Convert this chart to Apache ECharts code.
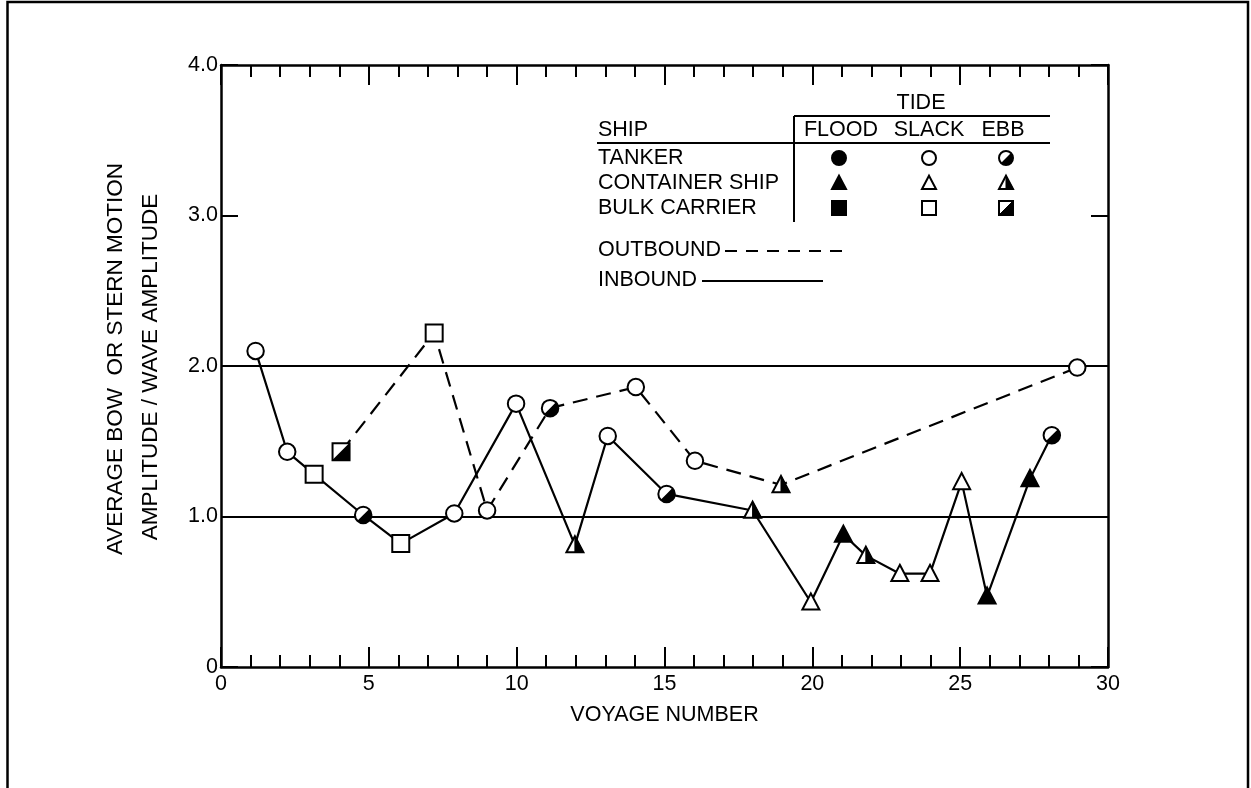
<!DOCTYPE html>
<html>
<head>
<meta charset="utf-8">
<script src="https://cdn.jsdelivr.net/npm/echarts@6/dist/echarts.min.js"></script>
<style>
html,body{margin:0;padding:0;background:#fff;}
#c{width:1251px;height:788px;}
</style>
</head>
<body>
<div id="c"></div>
<script>
// ---- data ----
const xTickLabels = ['0', '5', '10', '15', '20', '25', '30'];
const yTickLabels = ['0', '1.0', '2.0', '3.0', '4.0'];
const refLines = [1, 2];

// Inbound voyages (solid line)
const voyageIn = [1.17, 2.24, 3.15, 4.81, 6.08, 7.89, 9.98, 11.97, 13.08, 15.07, 17.98, 19.95, 21.05, 21.81, 22.96, 23.98, 25.05, 25.91, 27.36, 28.10];
const ratioIn  = [2.10, 1.43, 1.28, 1.01, 0.82, 1.02, 1.75, 0.81, 1.535, 1.15, 1.04, 0.43, 0.88, 0.74, 0.62, 0.62, 1.23, 0.47, 1.25, 1.54];
const shipIn   = ['T','T','B','T','B','T','T','C','T','T','C','C','C','C','C','C','C','C','C','T'];
const tideIn   = ['S','S','S','E','S','S','S','E','S','E','E','S','F','E','S','S','S','F','F','E'];

// Outbound voyages (dashed line)
const voyageOut = [4.06, 7.21, 9.00, 11.13, 14.03, 16.03, 18.94, 28.96];
const ratioOut  = [1.43, 2.22, 1.04, 1.72, 1.86, 1.37, 1.21, 1.99];
const shipOut   = ['B','B','T','T','T','T','C','T'];
const tideOut   = ['E','S','S','E','S','S','E','S'];

// legend
const shipNames = ['TANKER', 'CONTAINER SHIP', 'BULK CARRIER'];
const shipCodes = ['T', 'C', 'B'];
const tideNames = ['FLOOD', 'SLACK', 'EBB'];
const tideCodes = ['F', 'S', 'E'];

// ---- styling ----
const FONT = 'Liberation Sans';
const INK = '#000';
const FS = 21.5;

function marker(ship, tide, s) {
  const lw = 2;
  const kids = [];
  const fill = tide === 'F' ? INK : '#fff';
  if (ship === 'T') {
    const r = s / 2;
    kids.push({type: 'circle', shape: {cx: 0, cy: 0, r: r}, style: {fill: fill, stroke: INK, lineWidth: lw}});
    if (tide === 'E') {
      kids.push({type: 'sector', shape: {cx: 0, cy: 0, r: r, r0: 0, startAngle: -Math.PI / 4, endAngle: 3 * Math.PI / 4, clockwise: true}, style: {fill: INK}});
    }
  } else if (ship === 'C') {
    const w = s * 0.5, h = s * 0.95;
    const top = [0, -h * 0.55], bl = [-w, h * 0.45], br = [w, h * 0.45];
    kids.push({type: 'polygon', shape: {points: [top, br, bl]}, style: {fill: fill, stroke: INK, lineWidth: lw, lineJoin: 'miter'}});
    if (tide === 'E') {
      kids.push({type: 'polygon', shape: {points: [top, br, [0, h * 0.45]]}, style: {fill: INK, stroke: INK, lineWidth: 1}});
    }
  } else {
    const a = s / 2;
    kids.push({type: 'rect', shape: {x: -a, y: -a, width: s, height: s}, style: {fill: fill, stroke: INK, lineWidth: lw}});
    if (tide === 'E') {
      kids.push({type: 'polygon', shape: {points: [[-a, a], [a, a], [a, -a]]}, style: {fill: INK, stroke: INK, lineWidth: 1}});
    }
  }
  return kids;
}
function sizeFor(ship) { return ship === 'T' ? 16.5 : 17; }

function makeRender(ships, tides) {
  return function (params, api) {
    const p = api.coord([api.value(0), api.value(1)]);
    const i = params.dataIndex;
    return {type: 'group', x: p[0], y: p[1], children: marker(ships[i], tides[i], sizeFor(ships[i]))};
  };
}

const txt = (t, x, y, align, extra, size) => Object.assign({
  type: 'text', x: x, y: y, silent: true,
  style: {text: t, fill: INK, fontSize: size || FS, fontFamily: FONT, textAlign: align || 'left', textVerticalAlign: 'middle', verticalAlign: 'middle'}
}, extra || {});
const seg = (x1, y1, x2, y2, w, dash) => ({
  type: 'line', silent: true,
  shape: {x1: x1, y1: y1, x2: x2, y2: y2},
  style: {stroke: INK, lineWidth: w || 2, lineDash: dash || null}
});

const graphics = [];
// outer frame
graphics.push({type: 'polyline', silent: true, shape: {points: [[7.5, 788], [7.5, 2], [1248, 2], [1248, 788]]}, style: {stroke: INK, lineWidth: 2.5, fill: null}});
// y axis title (two lines)
graphics.push(txt('AVERAGE BOW  OR STERN MOTION', 116, 359, 'center', {rotation: Math.PI / 2}, 22.5));
graphics.push(txt('AMPLITUDE / WAVE AMPLITUDE', 151, 367, 'center', {rotation: Math.PI / 2}, 22.5));
// legend table
graphics.push(txt('TIDE', 921, 103, 'center'));
graphics.push(seg(794, 116, 1050, 116));
graphics.push(txt('SHIP', 598, 130, 'left'));
const tideX = [841, 929, 1003];
tideNames.forEach((t, j) => graphics.push(txt(t, tideX[j], 130, 'center')));
graphics.push(seg(597, 143, 1050, 143));
graphics.push(seg(794, 116, 794, 222));
const rowY = [158, 183, 208];
const symX = [839, 929, 1006];
shipNames.forEach((n, i) => {
  graphics.push(txt(n, 598, rowY[i], 'left'));
  tideCodes.forEach((tc, j) => {
    graphics.push({type: 'group', x: symX[j], y: rowY[i], silent: true, children: marker(shipCodes[i], tc, 14)});
  });
});
graphics.push(txt('OUTBOUND', 598, 250, 'left'));
graphics.push(seg(725, 251, 848, 251, 2.2, [12, 9]));
graphics.push(txt('INBOUND', 598, 280, 'left'));
graphics.push(seg(702, 281, 823, 281, 2.2));

const axisLineStyle = {color: INK, width: 2.5};
const tickStyle = {color: INK, width: 2};

const option = {
  animation: false,
  backgroundColor: '#fff',
  grid: {left: 221, right: 143, top: 65, bottom: 121, containLabel: false, outerBoundsMode: 'none'},
  xAxis: [{
    type: 'value', min: 0, max: 30, interval: 5, position: 'bottom',
    axisLine: {show: true, onZero: false, lineStyle: axisLineStyle},
    axisTick: {show: true, inside: true, length: 20, lineStyle: tickStyle},
    minorTick: {show: true, splitNumber: 5, length: 12, lineStyle: tickStyle},
    axisLabel: {show: true, color: INK, fontSize: FS, fontFamily: FONT, margin: 6,
      formatter: v => xTickLabels[Math.round(v / 5)]},
    splitLine: {show: false}, minorSplitLine: {show: false},
    name: 'VOYAGE NUMBER', nameLocation: 'middle', nameGap: 37,
    nameTextStyle: {color: INK, fontSize: FS, fontFamily: FONT}
  }, {
    type: 'value', min: 0, max: 30, interval: 5, position: 'top',
    axisLine: {show: true, onZero: false, lineStyle: axisLineStyle},
    axisTick: {show: true, inside: true, length: 20, lineStyle: tickStyle},
    minorTick: {show: true, splitNumber: 5, length: 12, lineStyle: tickStyle},
    axisLabel: {show: false}, splitLine: {show: false}
  }],
  yAxis: [{
    type: 'value', min: 0, max: 4, interval: 1, position: 'left',
    axisLine: {show: true, onZero: false, lineStyle: axisLineStyle},
    axisTick: {show: true, inside: true, length: 17, lineStyle: tickStyle},
    axisLabel: {show: true, color: INK, fontSize: FS, fontFamily: FONT, margin: 3,
      formatter: v => yTickLabels[Math.round(v)]},
    splitLine: {show: false}
  }, {
    type: 'value', min: 0, max: 4, interval: 1, position: 'right',
    axisLine: {show: true, onZero: false, lineStyle: axisLineStyle},
    axisTick: {show: true, inside: true, length: 17, lineStyle: tickStyle},
    axisLabel: {show: false}, splitLine: {show: false}
  }],
  series: [{
    name: 'Inbound', type: 'line', xAxisIndex: 0, yAxisIndex: 0,
    data: voyageIn.map((v, i) => [v, ratioIn[i]]),
    symbol: 'none', lineStyle: {color: INK, width: 2.2, type: 'solid'}, z: 3,
    markLine: {
      silent: true, symbol: ['none', 'none'], label: {show: false},
      lineStyle: {color: INK, width: 1.8, type: 'solid'},
      data: refLines.map(v => ({yAxis: v}))
    }
  }, {
    name: 'Outbound', type: 'line', xAxisIndex: 0, yAxisIndex: 0,
    data: voyageOut.map((v, i) => [v, ratioOut[i]]),
    symbol: 'none', lineStyle: {color: INK, width: 2.2, type: [15, 9]}, z: 3
  }, {
    name: 'Inbound markers', type: 'custom', xAxisIndex: 0, yAxisIndex: 0,
    data: voyageIn.map((v, i) => [v, ratioIn[i]]), encode: {x: 0, y: 1},
    renderItem: makeRender(shipIn, tideIn), z: 5
  }, {
    name: 'Outbound markers', type: 'custom', xAxisIndex: 0, yAxisIndex: 0,
    data: voyageOut.map((v, i) => [v, ratioOut[i]]), encode: {x: 0, y: 1},
    renderItem: makeRender(shipOut, tideOut), z: 5
  }],
  graphic: graphics
};

const chart = echarts.init(document.getElementById('c'));
chart.setOption(option);
</script>
</body>
</html>
